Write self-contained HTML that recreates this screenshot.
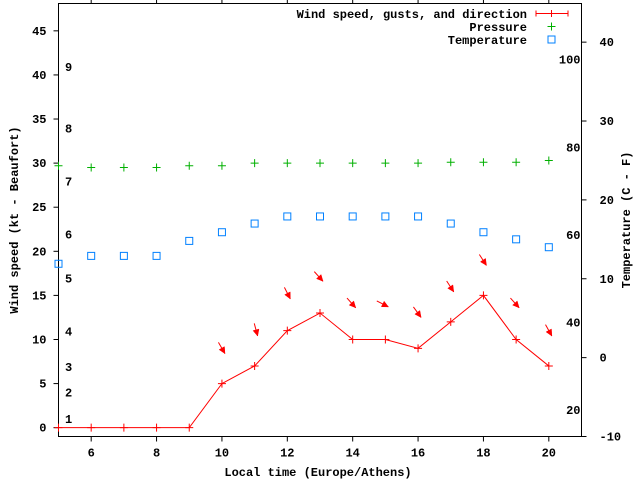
<!DOCTYPE html>
<html><head><meta charset="utf-8"><style>
html,body{margin:0;padding:0;background:#fff;}
svg{display:block;font-family:"Liberation Mono","DejaVu Sans Mono",monospace;font-size:12px;font-weight:bold;}
</style></head><body>
<svg id="chart" width="640" height="480" viewBox="0 0 640 480" xmlns="http://www.w3.org/2000/svg"></svg>
<script>
const hours = [5,6,7,8,9,10,11,12,13,14,15,16,17,18,19,20];
const windSpeed = [0,0,0,0,0,5,7,11,13,10,10,9,12,15,10,7];
const pressure = [29.7,29.5,29.5,29.5,29.7,29.7,30,30,30,30,30,30,30.1,30.1,30.1,30.3];
const temperatureC = [11.9,12.9,12.9,12.9,14.8,15.9,17,17.9,17.9,17.9,17.9,17.9,17,15.9,15,14];
const arrowHours = [10,11,12,13,14,15,16,17,18,19,20];
const arrowValue = [8.4,10.4,14.6,16.6,13.6,13.7,12.5,15.4,18.4,13.6,10.4];
const arrowAngle = [60,75,63,48,48,27,54,57,57,48,61];
const xTicks = [6,8,10,12,14,16,18,20];
const yTicks = [0,5,10,15,20,25,30,35,40,45];
const y2Ticks = [-10,0,10,20,30,40];
const fTicks = [20,40,60,80,100];
const beaufortLabels = ['1','2','3','4','5','6','7','8','9'];
const beaufortKt = [1,4,6.9,10.9,16.9,21.9,27.9,33.9,40.9];

const L=58.5,R=581.5,T=3.5,B=436.5;
const xMin=5,xMax=21,yMin=-1,yMax=48.1,cMin=-10,cMax=44.9;
const X=v=>L+(v-xMin)/(xMax-xMin)*(R-L);
const Y=v=>B-(v-yMin)/(yMax-yMin)*(B-T);
const YC=v=>B-(v-cMin)/(cMax-cMin)*(B-T);
const svg=document.getElementById('chart');
const NS='http://www.w3.org/2000/svg';
function mk(tag,attrs,parent){const e=document.createElementNS(NS,tag);for(const k in attrs)e.setAttribute(k,attrs[k]);(parent||svg).appendChild(e);return e;}
function txt(x,y,s,anchor,parent){const t=mk('text',{x:x,y:y,'text-anchor':anchor||'start'},parent);t.textContent=s;return t;}

const axes=mk('g',{stroke:'#000','stroke-width':1});


const border=mk('rect',{x:L,y:T,width:R-L,height:B-T,fill:'none'},axes);


const lbl=mk('g',{fill:'#000'});


xTicks.forEach(v=>{const x=X(v);mk('line',{x1:x,y1:B,x2:x,y2:B+5},axes);mk('line',{x1:x,y1:T,x2:x,y2:T-4},axes);txt(x,B+20,String(v),'middle',lbl);});
yTicks.forEach(v=>{const y=Y(v);mk('line',{x1:L,y1:y,x2:L-5,y2:y},axes);txt(L-12,y+4,String(v),'end',lbl);});
y2Ticks.forEach(v=>{const y=YC(v);mk('line',{x1:R,y1:y,x2:R+5,y2:y},axes);txt(R+18,y+4,String(v),'start',lbl);});
fTicks.forEach(v=>{const c=(v-32)*5/9;txt(R-1,YC(c)+4,String(v),'end',lbl);});
beaufortLabels.forEach((s,i)=>{txt(65,Y(beaufortKt[i])+4,s,'start',lbl);});

const xt=txt(318,476,'Local time (Europe/Athens)','middle');


const yt=txt(0,0,'Wind speed (kt - Beaufort)','middle');
yt.setAttribute('transform','translate(18,220) rotate(-90)');


const y2t=txt(0,0,'Temperature (C - F)','middle');
y2t.setAttribute('transform','translate(630,220) rotate(-90)');



// wind line
const wg=mk('g',{stroke:'#f00','stroke-width':1,fill:'none'});


mk('polyline',{points:hours.map((h,i)=>X(h)+','+Y(windSpeed[i])).join(' ')},wg);
hours.forEach((h,i)=>{const x=X(h),y=Y(windSpeed[i]);const p=mk('path',{d:`M${x-4},${y}H${x+4}M${x},${y-4}V${y+4}`},wg);});
// arrows
const ag=mk('g',{stroke:'#f00',fill:'#f00'});


arrowHours.forEach((h,i)=>{const hx=X(h)+3,hy=Y(arrowValue[i]);const a=arrowAngle[i]*Math.PI/180;const len=13;
 const tx=hx-len*Math.cos(a),ty=hy-len*Math.sin(a);
 const g=mk('g',{},ag);
 mk('line',{x1:tx,y1:ty,x2:hx,y2:hy},g);
 const hl=7,w=0.45;const p1x=hx-hl*Math.cos(a-w),p1y=hy-hl*Math.sin(a-w),p2x=hx-hl*Math.cos(a+w),p2y=hy-hl*Math.sin(a+w);
 mk('polygon',{points:`${hx},${hy} ${p1x},${p1y} ${p2x},${p2y}`,'stroke-width':0.5},g);});
// pressure
const pg=mk('g',{stroke:'#00b000','stroke-width':1});


hours.forEach((h,i)=>{const x=X(h),y=Y(pressure[i]);const p=mk('path',{d:`M${x-4},${y}H${x+4}M${x},${y-4}V${y+4}`},pg);});
// temperature
const tg=mk('g',{stroke:'#0080ff','stroke-width':1,fill:'none'});


hours.forEach((h,i)=>{const x=X(h),y=YC(temperatureC[i]);const r=mk('rect',{x:x-3.5,y:y-3.5,width:7,height:7},tg);});
// legend
const lg=mk('g',{});


const e1=mk('g',{},lg);
txt(527,18,'Wind speed, gusts, and direction','end',e1);
mk('path',{d:'M536,13.5H568M536,10.5V16.5M568,10.5V16.5M551.5,10V17',stroke:'#f00',fill:'none'},e1);
const e2=mk('g',{},lg);
txt(527,31,'Pressure','end',e2);
mk('path',{d:'M547.5,26.5H555.5M551.5,22.5V30.5',stroke:'#00b000',fill:'none'},e2);
const e3=mk('g',{},lg);
txt(527,44,'Temperature','end',e3);
mk('rect',{x:548,y:36,width:7,height:7,stroke:'#0080ff',fill:'none'},e3);
</script>
</body></html>
